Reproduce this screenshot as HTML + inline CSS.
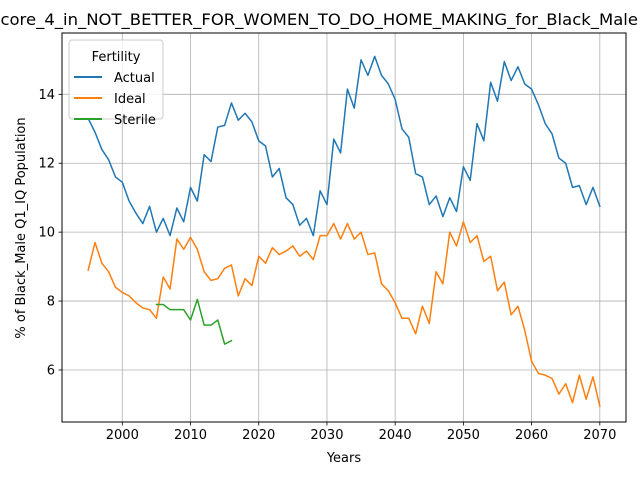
<!DOCTYPE html>
<html><head><meta charset="utf-8"><style>
html,body{margin:0;padding:0;background:#fff;}
svg{display:block;font-family:"DejaVu Sans","Liberation Sans",sans-serif;}
</style></head><body>
<svg id="chart" width="640" height="480" viewBox="0 0 640 480">
<rect x="0" y="0" width="640" height="480" fill="#fff"/>
<text x="314" y="25" font-size="16" text-anchor="middle" textLength="648" lengthAdjust="spacingAndGlyphs" fill="#000">Score_4_in_NOT_BETTER_FOR_WOMEN_TO_DO_HOME_MAKING_for_Black_Male</text>
<g id="grid"></g>
<g id="series"></g>
<rect x="62" y="33" width="564" height="389" fill="none" stroke="#000" stroke-width="1"/>
<g id="axes"></g>
<text x="344" y="462" font-size="13" text-anchor="middle">Years</text>
<text transform="translate(25,228) rotate(-90)" font-size="13" text-anchor="middle">% of Black_Male Q1_IQ Population</text>
<g>
<rect x="69" y="40" width="94" height="79" rx="3" fill="#fff" fill-opacity="0.8" stroke="#ccc"/>
<text x="116" y="61" font-size="13" text-anchor="middle">Fertility</text>
<line x1="74" y1="77" x2="102" y2="77" stroke="#1f77b4" stroke-width="2"/>
<text x="114" y="82" font-size="13">Actual</text>
<line x1="74" y1="98" x2="102" y2="98" stroke="#ff7f0e" stroke-width="2"/>
<text x="114" y="103" font-size="13">Ideal</text>
<line x1="74" y1="119" x2="102" y2="119" stroke="#2ca02c" stroke-width="2"/>
<text x="114" y="124" font-size="13">Sterile</text>
</g>
</svg>
<script>
const actualStart = 1995;
const actualValues = [13.3,12.9,12.4,12.1,11.6,11.45,10.9,10.55,10.25,10.75,10.0,10.4,9.9,10.7,10.3,11.3,10.9,12.25,12.05,13.05,13.1,13.75,13.25,13.45,13.2,12.65,12.5,11.6,11.85,11.0,10.8,10.2,10.4,9.9,11.2,10.8,12.7,12.3,14.15,13.6,15.0,14.55,15.1,14.55,14.3,13.85,13.0,12.75,11.7,11.6,10.8,11.05,10.45,11.0,10.6,11.9,11.5,13.15,12.65,14.35,13.8,14.95,14.4,14.8,14.3,14.15,13.7,13.15,12.85,12.15,12.0,11.3,11.35,10.8,11.3,10.75];
const idealStart = 1995;
const idealValues = [8.9,9.7,9.1,8.85,8.4,8.25,8.15,7.95,7.8,7.75,7.5,8.7,8.35,9.8,9.5,9.85,9.5,8.85,8.6,8.65,8.95,9.05,8.15,8.65,8.45,9.3,9.1,9.55,9.35,9.45,9.6,9.3,9.45,9.2,9.9,9.9,10.25,9.8,10.25,9.8,10.0,9.35,9.4,8.5,8.3,7.95,7.5,7.5,7.05,7.85,7.35,8.85,8.5,10.0,9.6,10.3,9.7,9.9,9.15,9.3,8.3,8.55,7.6,7.85,7.15,6.25,5.9,5.85,5.75,5.3,5.6,5.05,5.85,5.15,5.8,4.95];
const sterileStart = 2005;
const sterileValues = [7.9,7.9,7.75,7.75,7.75,7.45,8.05,7.3,7.3,7.45,6.75,6.85];
const xTicks = [2000,2010,2020,2030,2040,2050,2060,2070];
const yTicks = [6,8,10,12,14];

const NS = "http://www.w3.org/2000/svg";
const L=62,R=626,T=33,B=422;
const xMin=1991.16,xMax=2073.84,yMin=4.49,yMax=15.78;
function xs(v){return L+(v-xMin)/(xMax-xMin)*(R-L);}
function ys(v){return B-(v-yMin)/(yMax-yMin)*(B-T);}
function mk(tag,attrs,parent){const e=document.createElementNS(NS,tag);for(const k in attrs)e.setAttribute(k,attrs[k]);parent.appendChild(e);return e;}
const grid=document.getElementById('grid'),axes=document.getElementById('axes'),series=document.getElementById('series');
xTicks.forEach(t=>{
  const x=xs(t);
  const g=mk('line',{x1:x,x2:x,y1:T,y2:B,stroke:'#b0b0b0','stroke-width':0.8},grid);
  
  
  const tk=mk('line',{x1:x,x2:x,y1:B,y2:B+3.5,stroke:'#000','stroke-width':0.8},axes);
  
  
  const tx=mk('text',{x:x,y:B+17,'font-size':13,'text-anchor':'middle'},axes);
  tx.textContent=t;
  
  
});
yTicks.forEach(t=>{
  const y=ys(t);
  const g=mk('line',{x1:L,x2:R,y1:y,y2:y,stroke:'#b0b0b0','stroke-width':0.8},grid);
  
  
  const tk=mk('line',{x1:L-3.5,x2:L,y1:y,y2:y,stroke:'#000','stroke-width':0.8},axes);
  
  
  const tx=mk('text',{x:L-7,y:y+4.5,'font-size':13,'text-anchor':'end'},axes);
  tx.textContent=t;
  
  
});
function draw(start,vals,color,name){
  const pts=vals.map((v,i)=>xs(start+i).toFixed(2)+','+ys(v).toFixed(2)).join(' ');
  const p=mk('polyline',{points:pts,fill:'none',stroke:color,'stroke-width':1.5,'stroke-linejoin':'round','stroke-linecap':'square'},series);
  
  
}
draw(actualStart,actualValues,'#1f77b4','series-actual');
draw(idealStart,idealValues,'#ff7f0e','series-ideal');
draw(sterileStart,sterileValues,'#2ca02c','series-sterile');
</script>
</body></html>
